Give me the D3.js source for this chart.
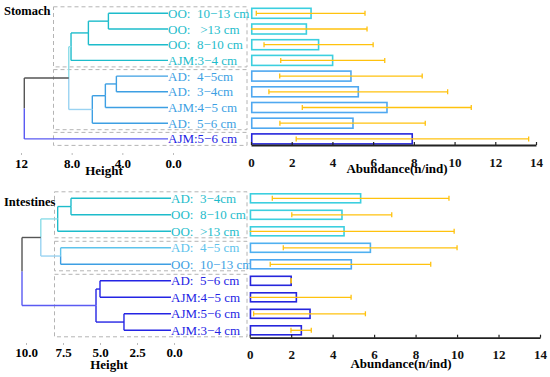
<!DOCTYPE html>
<html><head><meta charset="utf-8">
<script src="https://cdn.jsdelivr.net/npm/d3@7"></script>
<style>body{margin:0;background:#fff}text{font-family:"Liberation Serif","Times New Roman",serif}</style>
</head><body>
<script>
// ---------------- DATA ----------------
const stomachLabels = ["OO:  10\u221213 cm","OO:   >13 cm","OO:  8\u221210 cm","AJM:3\u22124 cm","AD:  4\u22125cm","AD:  3\u22124cm","AJM:4\u22125 cm","AD:  5\u22126 cm","AJM:5\u22126 cm"];
const stomachMeans   = [2.95, 2.72, 3.32, 4.01, 4.91, 5.27, 6.68, 5.01, 7.92];
const stomachErrLow  = [0.26, 0.00, 0.64, 1.46, 1.41, 0.88, 2.52, 1.42, 2.22];
const stomachErrHigh = [5.60, 5.70, 6.00, 6.57, 8.41, 9.66, 10.82, 8.56, 13.64];
// merges: [childA, childB, height]; "L#" = leaf index, "M#" = earlier merge
const stomachMerges = [["L0","L1",5.1],["M0","L2",6.68],["M1","L3",8.05],["L4","L5",4.47],["M3","L6",5.34],["M4","L7",6.37],["M2","M5",8.23],["M6","L8",11.74]];
const stomachHeightTicks = [12, 8, 4, 0];
const stomachHeightTickLabels = ["12","8.0","4.0","0.0"];

const intestineLabels = ["AD:  3\u22124cm","OO:  8\u221210 cm","OO:  >13 cm","AD:  4\u22125 cm","OO:  10\u221213 cm","AD:  5\u22126 cm","AJM:4\u22125 cm","AJM:5\u22126 cm","AJM:3\u22124 cm"];
const intestineMeans   = [5.35, 4.45, 4.55, 5.82, 4.90, 2.00, 2.25, 2.91, 2.49];
const intestineErrLow  = [1.09, 2.03, 0.00, 1.62, 0.99, 2.00, 0.00, 0.19, 1.99];
const intestineErrHigh = [9.61, 6.85, 9.86, 10.00, 8.73, 2.00, 4.89, 5.58, 2.97];
const intestineMerges = [["L0","L1",6.96],["M0","L2",7.86],["L3","L4",7.66],["M1","M2",9.0],["L5","L6",5.0],["L7","L8",3.38],["M4","M5",5.27],["M3","M6",10.27]];
const intestineHeightTicks = [10, 7.5, 5, 2.5, 0];
const intestineHeightTickLabels = ["10.0","7.5","5.0","2.5","0.0"];

const abundanceTicks = [0,2,4,6,8,10,12,14];
const clusterGroups = {stomach:[[0,3],[4,7],[8,8]], intestines:[[0,2],[3,4],[5,8]]};

// ---------------- STYLE ----------------
const C = {cyan:"#1DBCCB", blue:"#3D9FE3", lblue:"#5EC3EC", dblue:"#2424E4", lcyan:"#8CDDE8", lblue2:"#9AD3F2", gray:"#555555", root:"#5A5AF2", mid:"#3434EE"};
const stomachStyle = {
  leafColors:[C.cyan,C.cyan,C.cyan,C.cyan,C.blue,C.blue,C.blue,C.blue,C.dblue],
  mergeColors:[C.cyan,C.cyan,C.lcyan,C.blue,C.blue,C.lblue2,C.gray,C.gray],
  rootLower:C.root,
  barColors:["#3CCFDF","#3CCFDF","#3CCFDF","#3CCFDF","#4FA8F0","#4FA8F0","#4FA8F0","#4FA8F0","#2626DC"]
};
const intestineStyle = {
  leafColors:[C.cyan,C.cyan,C.cyan,C.lblue,C.blue,C.dblue,C.dblue,C.dblue,C.dblue],
  mergeColors:[C.cyan,C.lcyan,C.lblue2,C.gray,C.dblue,C.dblue,C.mid,C.gray],
  rootLower:C.root,
  barColors:["#3CCFDF","#3CCFDF","#3CCFDF","#4FB0F0","#4FA8F0","#2626DC","#2626DC","#2626DC","#2626DC"]
};

const svg = d3.select("body").append("svg").attr("width",550).attr("height",377);

function panel(cfg){
  const g = svg.append("g");
  const n = cfg.labels.length;
  const y = d3.scaleBand().domain(d3.range(n)).range([cfg.rowTop, cfg.rowTop + cfg.rowStep*n]).paddingInner(0).paddingOuter(0);
  const cy = i => y(i) + y.bandwidth()/2;
  const hx = d3.scaleLinear().domain(cfg.hDomain).range(cfg.hRange);
  const bx = d3.scaleLinear().domain([0,14]).range([cfg.barX0, cfg.barX1]);

  // dashed cluster boxes
  cfg.groups.forEach(([a,b]) => {
    g.append("rect").attr("x",cfg.boxX0).attr("y",cy(a)-6.5).attr("width",cfg.boxX1-cfg.boxX0).attr("height",cy(b)-cy(a)+13)
      .attr("fill","none").attr("stroke","#b4b4b4").attr("stroke-width",1).attr("stroke-dasharray","4,3");
  });

  // dendrogram
  const pos = {};
  for (let i=0;i<n;i++) pos["L"+i] = {x:cfg.labelX, y:cy(i), color:cfg.style.leafColors[i]};
  cfg.merges.forEach((m,k) => {
    const [a,b,h] = m;
    const pa = pos[a], pb = pos[b];
    const xm = hx(h), ym = (pa.y+pb.y)/2;
    const isRoot = k === cfg.merges.length-1;
    [[pa,0],[pb,1]].forEach(([p,side]) => {
      let col = p.color;
      if (isRoot && side===1) col = cfg.style.rootLower;
      g.append("line").attr("x1",p.x).attr("x2",xm).attr("y1",p.y).attr("y2",p.y).attr("stroke",col).attr("stroke-width",1.4);
      g.append("line").attr("x1",xm).attr("x2",xm).attr("y1",p.y).attr("y2",ym).attr("stroke",col).attr("stroke-width",1.4);
    });
    pos["M"+k] = {x:xm, y:ym, color:cfg.style.mergeColors[k]};
  });

  // leaf labels
  cfg.labels.forEach((t,i) => {
    g.append("text").attr("x",cfg.labelX).attr("y",cy(i)).attr("dy","0.35em")
      .attr("font-size",13).attr("fill",cfg.style.leafColors[i]).style("white-space","pre").text(t);
  });

  // height axis
  const ha = d3.axisBottom(hx).tickValues(cfg.hTicks).tickFormat((d,i)=>cfg.hTickLabels[i]).tickSize(2).tickSizeOuter(0).tickPadding(cfg.hPad);
  const hg = g.append("g").attr("transform",`translate(0,${cfg.hAxisY})`).call(ha);
  hg.select(".domain").remove();
  hg.selectAll(".tick line").attr("stroke","#bbb");
  hg.selectAll("text").attr("font-size",13).attr("font-weight","bold").attr("font-family","Liberation Serif");
  g.append("text").attr("x",cfg.heightX).attr("y",cfg.heightY).attr("text-anchor","middle").attr("font-size",13).attr("font-weight","bold").text("Height");

  // bars
  cfg.means.forEach((v,i) => {
    g.append("rect").attr("x",bx(0)+0.75).attr("y",cy(i)-cfg.barH/2).attr("width",bx(v)-bx(0)-0.75).attr("height",cfg.barH)
      .attr("fill","#fff").attr("stroke",cfg.style.barColors[i]).attr("stroke-width",1.6);
  });
  const eg = g.append("g").attr("stroke","#FFC20E").attr("stroke-width",1.3);
  cfg.means.forEach((v,i) => {
    const lo = cfg.errLow[i], hi = cfg.errHigh[i], yy = cy(i);
    eg.append("line").attr("x1",bx(lo)).attr("x2",bx(hi)).attr("y1",yy).attr("y2",yy);
    if (lo>0) eg.append("line").attr("x1",bx(lo)).attr("x2",bx(lo)).attr("y1",yy-2.5).attr("y2",yy+2.5);
    eg.append("line").attr("x1",bx(hi)).attr("x2",bx(hi)).attr("y1",yy-2.5).attr("y2",yy+2.5);
  });

  // abundance axis
  const ba = d3.axisBottom(bx).tickValues(abundanceTicks).tickSizeInner(-3).tickSizeOuter(0).tickPadding(cfg.bPad);
  const bg = g.append("g").attr("transform",`translate(0,${cfg.axisY})`).call(ba);
  bg.select(".domain").attr("stroke","#222").attr("stroke-width",1.8);
  bg.selectAll(".tick line").attr("stroke","#222").attr("stroke-width",1.2);
  bg.selectAll("text").attr("font-size",13).attr("font-weight","bold").attr("font-family","Liberation Serif").attr("fill","#111");
  g.append("text").attr("x",cfg.abX).attr("y",cfg.abY).attr("text-anchor","middle").attr("font-size",13).attr("font-weight","bold").text("Abundance(n/ind)");

  // title
  g.append("text").attr("x",4).attr("y",cfg.titleY).attr("font-size",12.5).attr("font-weight","bold").text(cfg.title);
}

panel({title:"Stomach", titleY:15, labels:stomachLabels, means:stomachMeans, errLow:stomachErrLow, errHigh:stomachErrHigh,
  merges:stomachMerges, style:stomachStyle, groups:clusterGroups.stomach,
  rowTop:5.45, rowStep:15.7, barH:10, hDomain:[0,12], hRange:[173,21], hTicks:stomachHeightTicks, hTickLabels:stomachHeightTickLabels,
  hAxisY:153, hPad:3.3, heightX:104, heightY:175, labelX:168, boxX0:53.5, boxX1:247,
  barX0:251, barX1:536, axisY:145, bPad:12.3, abX:397, abY:172.5});

panel({title:"Intestines", titleY:206, labels:intestineLabels, means:intestineMeans, errLow:intestineErrLow, errHigh:intestineErrHigh,
  merges:intestineMerges, style:intestineStyle, groups:clusterGroups.intestines,
  rowTop:190.05, rowStep:16.5, barH:9, hDomain:[0,10], hRange:[174,26], hTicks:intestineHeightTicks, hTickLabels:intestineHeightTickLabels,
  hAxisY:343, hPad:2.8, heightX:109, heightY:369, labelX:171, boxX0:54.5, boxX1:247,
  barX0:249.7, barX1:540, axisY:337.7, bPad:12, abX:401, abY:367.5});
</script>
</body></html>
